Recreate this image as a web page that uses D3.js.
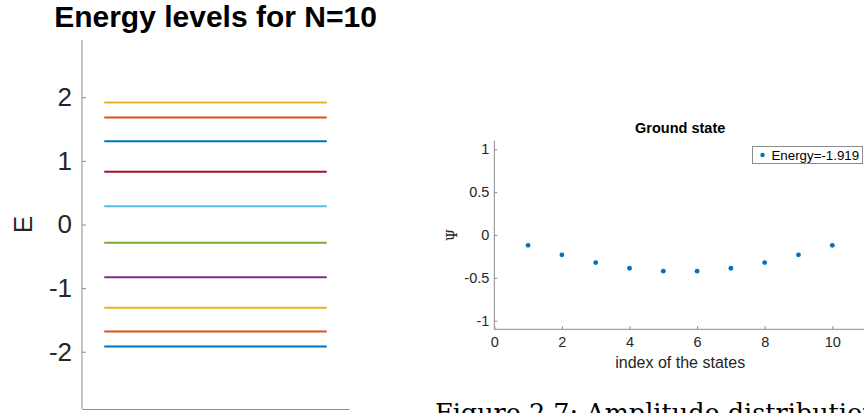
<!DOCTYPE html>
<html>
<head>
<meta charset="utf-8">
<script src="https://cdn.jsdelivr.net/npm/d3@7"></script>
<style>
  html, body { margin: 0; padding: 0; background: #fff; }
  svg { display: block; }
  .axis path, .axis line { stroke: #8c8c8c; }
  .axis text { fill: #262626; font-family: "Liberation Sans", Arial, sans-serif; }
</style>
</head>
<body>
<svg id="fig" width="864" height="413"></svg>
<script>
// Energy eigenvalues of the N=10 chain, lowest first
const energies = [-1.919, -1.683, -1.310, -0.831, -0.285, 0.285, 0.831, 1.310, 1.683, 1.919];
// MATLAB default colour order, cycled over the levels
const levelColors = ["#0072BD", "#D95319", "#EDB120", "#7E2F8E", "#77AC30", "#4DBEEE", "#A2142F", "#0072BD", "#D95319", "#EDB120"];
const energyTicks = [-2, -1, 0, 1, 2];

// Ground state amplitudes on each site
const siteIndex = [1, 2, 3, 4, 5, 6, 7, 8, 9, 10];
const psi = [-0.120, -0.231, -0.322, -0.388, -0.422, -0.422, -0.388, -0.322, -0.231, -0.120];
const psiTicks = [-1, -0.5, 0, 0.5, 1];
const indexTicks = [0, 2, 4, 6, 8, 10];
const groundEnergy = -1.919;

const svg = d3.select("#fig");
const sans = '"Liberation Sans", Arial, sans-serif';
// plain hyphen-minus for negative tick labels
const plain = d => String(d);

// ---------- Left panel: energy levels ----------
const L = { left: 82, right: 349, top: 40, bottom: 409 };
const xL = d3.scaleLinear().domain([0, 12]).range([L.left, L.right]);
const yL = d3.scaleLinear().domain([-2.9, 2.9]).range([L.bottom, L.top]);

const gL = svg.append("g");

gL.selectAll("line.level")
  .data(energies)
  .join("line")
  .attr("class", "level")
  .attr("x1", xL(1)).attr("x2", xL(11))
  .attr("y1", d => yL(d)).attr("y2", d => yL(d))
  .attr("stroke", (d, i) => levelColors[i])
  .attr("stroke-width", 2);

const axL = gL.append("g")
  .attr("class", "axis")
  .attr("transform", `translate(${L.left},0)`)
  .call(d3.axisLeft(yL).tickValues(energyTicks).tickSize(-4).tickPadding(10).tickFormat(plain));
axL.select(".domain").attr("d", `M0,${L.top}V${L.bottom}`);
axL.selectAll("text").style("font-size", "26px");

gL.append("g")
  .attr("class", "axis")
  .attr("transform", `translate(0,${L.bottom})`)
  .call(d3.axisBottom(xL).tickValues([]).tickSizeOuter(0));

gL.append("text")
  .attr("x", (L.left + L.right) / 2).attr("y", 27)
  .attr("text-anchor", "middle")
  .style("font-family", sans).style("font-weight", "bold").style("font-size", "30px")
  .attr("fill", "#000")
  .text("Energy levels for N=10");

gL.append("text")
  .attr("transform", `translate(32,${yL(0)}) rotate(-90)`)
  .attr("text-anchor", "middle")
  .style("font-family", sans).style("font-size", "26px")
  .attr("fill", "#262626")
  .text("E");

// ---------- Right panel: ground state amplitudes ----------
const R = { left: 494.3, top: 140.7, bottom: 329.3 };
const xR = d3.scaleLinear().domain([0, 11]).range([R.left, R.left + 11 * 33.8]);
const yR = d3.scaleLinear().domain([-1.1, 1.1]).range([R.bottom, R.top]);

const gR = svg.append("g");

const ayR = gR.append("g")
  .attr("class", "axis")
  .attr("transform", `translate(${R.left},0)`)
  .call(d3.axisLeft(yR).tickValues(psiTicks).tickSize(-3).tickPadding(5).tickFormat(plain));
ayR.select(".domain").attr("d", `M0,${R.top}V${R.bottom}`);
ayR.selectAll("text").style("font-size", "14.5px");

const axR = gR.append("g")
  .attr("class", "axis")
  .attr("transform", `translate(0,${R.bottom})`)
  .call(d3.axisBottom(xR).tickValues(indexTicks).tickSize(-3).tickPadding(7).tickFormat(plain));
axR.select(".domain").attr("d", `M${xR(0)},0H${xR(11)}`);
axR.selectAll("text").style("font-size", "14.5px");

gR.selectAll("circle.amp")
  .data(psi)
  .join("circle")
  .attr("class", "amp")
  .attr("cx", (d, i) => xR(siteIndex[i]))
  .attr("cy", d => yR(d))
  .attr("r", 2.4)
  .attr("fill", "#0072BD");

gR.append("text")
  .attr("x", (xR(0) + xR(11)) / 2).attr("y", 133)
  .attr("text-anchor", "middle")
  .style("font-family", sans).style("font-weight", "bold").style("font-size", "14.5px")
  .attr("fill", "#000")
  .text("Ground state");

gR.append("text")
  .attr("x", (xR(0) + xR(11)) / 2).attr("y", 368)
  .attr("text-anchor", "middle")
  .style("font-family", sans).style("font-size", "16px")
  .attr("fill", "#262626")
  .text("index of the states");

gR.append("text")
  .attr("transform", `translate(457,${yR(0)}) rotate(-90)`)
  .attr("text-anchor", "middle")
  .style("font-family", '"DejaVu Serif", serif').style("font-size", "14px")
  .attr("fill", "#262626")
  .text("Ψ");

// Legend box in the upper right corner of the axes
const leg = gR.append("g").attr("transform", "translate(752.5,146.5)");
leg.append("rect")
  .attr("width", 110).attr("height", 17)
  .attr("fill", "#fff").attr("stroke", "#8c8c8c").attr("stroke-width", 1);
leg.append("circle")
  .attr("cx", 10).attr("cy", 8.5).attr("r", 2.2).attr("fill", "#0072BD");
leg.append("text")
  .attr("x", 19).attr("y", 13)
  .style("font-family", sans).style("font-size", "13.3px")
  .attr("fill", "#000")
  .text(`Energy=${groundEnergy.toFixed(3)}`);

// Figure caption beneath the right panel, running off the lower edge
svg.append("text")
  .attr("x", 435).attr("y", 421.5)
  .style("font-family", '"DejaVu Serif", serif').style("font-size", "25.5px")
  .attr("fill", "#000")
  .text("Figure 2.7: Amplitude distribution");
</script>
</body>
</html>
